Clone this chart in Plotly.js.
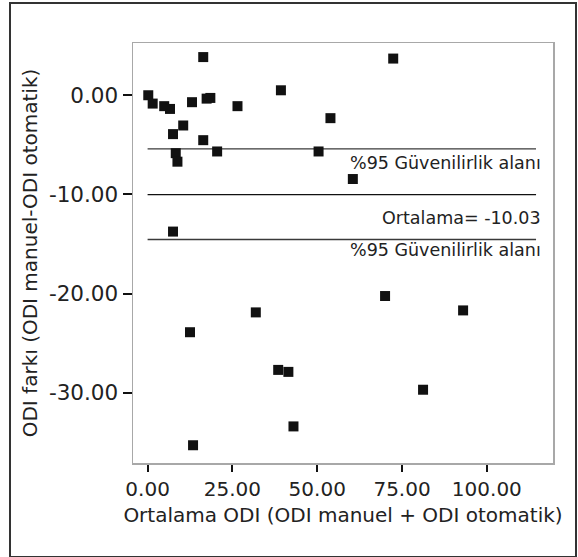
<!DOCTYPE html>
<html>
<head>
<meta charset="utf-8">
<script src="https://cdn.plot.ly/plotly-3.0.1.min.js"></script>
<style>
  html, body { margin: 0; padding: 0; background: #fff; }
  #wrap { position: relative; width: 578px; height: 557px; }
  #chart { width: 578px; height: 557px; }
  #frame { position: absolute; left: 9px; top: 2px; width: 564px; height: 552px; border: 2px solid #333; pointer-events: none; }
</style>
</head>
<body>
<div id="wrap"><div id="chart"></div><div id="frame"></div></div>
<script>
// Mean of the two ODI measurements (x) and their difference (y)
const meanODI = [16.4, 72.4, 0.2, 1.5, 4.9, 6.6, 13.1, 17.4, 18.5, 26.5, 39.3, 53.9, 10.5, 7.5, 16.4,
                 8.3, 8.8, 20.5, 50.4, 60.5, 7.5, 12.5, 31.9, 38.5, 41.5, 43.0, 13.4, 70.0, 93.0, 81.2];
const diffODI = [3.85, 3.7, 0.0, -0.84, -1.1, -1.38, -0.7, -0.34, -0.27, -1.1, 0.5, -2.31, -3.05, -3.92, -4.53,
                 -5.84, -6.7, -5.67, -5.67, -8.45, -13.75, -23.9, -21.9, -27.7, -27.9, -33.4, -35.3, -20.25, -21.7, -29.7];
const meanDiff = -10.03;
const upperLimit = -5.4;
const lowerLimit = -14.55;
const lineSpan = [0, 114.5];
const xTicks = [0, 25, 50, 75, 100];
const xTickLabels = ["0.00", "25.00", "50.00", "75.00", "100.00"];
const yTicks = [0, -10, -20, -30];
const yTickLabels = ["0.00", "-10.00", "-20.00", "-30.00"];
const labelLimit = "%95 Güvenilirlik alanı";
const labelMean = "Ortalama= " + meanDiff.toFixed(2);

const FONT = "DejaVu Sans, Verdana, sans-serif";

const traces = [
  { x: lineSpan, y: [upperLimit, upperLimit], mode: "lines", line: { color: "#3a3a3a", width: 1.3 }, hoverinfo: "skip", showlegend: false },
  { x: lineSpan, y: [meanDiff, meanDiff], mode: "lines", line: { color: "#111", width: 1.3 }, hoverinfo: "skip", showlegend: false },
  { x: lineSpan, y: [lowerLimit, lowerLimit], mode: "lines", line: { color: "#3a3a3a", width: 1.3 }, hoverinfo: "skip", showlegend: false },
  { x: meanODI, y: diffODI, mode: "markers", type: "scatter",
    marker: { symbol: "square", size: 10, color: "#111" }, showlegend: false }
];

const layout = {
  width: 578, height: 557,
  margin: { l: 133, r: 24.5, t: 43, b: 94 },
  paper_bgcolor: "#fff", plot_bgcolor: "#fff",
  font: { family: FONT, color: "#222" },
  xaxis: {
    range: [-4.3, 119.5], tickvals: xTicks, ticktext: xTickLabels,
    showgrid: false, zeroline: false, showline: true, mirror: true, linecolor: "#a8a8a8", linewidth: 1.5,
    ticks: "outside", ticklen: 7, tickwidth: 2, tickcolor: "#111",
    tickfont: { size: 20, family: FONT, color: "#222" },
    title: { text: "Ortalama ODI (ODI manuel + ODI otomatik)", font: { size: 20, family: FONT, color: "#222" }, standoff: 8 }
  },
  yaxis: {
    range: [-37.09, 5.27], tickvals: yTicks, ticktext: yTickLabels,
    showgrid: false, zeroline: false, showline: true, mirror: true, linecolor: "#a8a8a8", linewidth: 1.5,
    ticks: "outside", ticklen: 9, tickwidth: 2, tickcolor: "#111",
    tickfont: { size: 21.5, family: FONT, color: "#222" },
    title: { text: "ODI farkı (ODI manuel-ODI otomatik)", font: { size: 20, family: FONT, color: "#222" }, standoff: 6 }
  },
  annotations: [
    { x: 116.6, y: -6.85, xref: "x", yref: "y", text: labelLimit, showarrow: false, xanchor: "right", yanchor: "middle", font: { size: 17.5, family: FONT, color: "#222" } },
    { x: 116.6, y: -12.36, xref: "x", yref: "y", text: labelMean, showarrow: false, xanchor: "right", yanchor: "middle", font: { size: 17.5, family: FONT, color: "#222" } },
    { x: 116.6, y: -15.6, xref: "x", yref: "y", text: labelLimit, showarrow: false, xanchor: "right", yanchor: "middle", font: { size: 17.5, family: FONT, color: "#222" } }
  ]
};

Plotly.newPlot("chart", traces, layout, { displayModeBar: false, staticPlot: true });
</script>
</body>
</html>
